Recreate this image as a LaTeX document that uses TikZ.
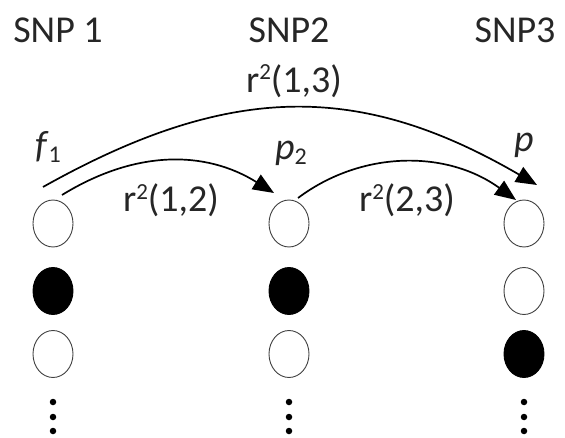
\documentclass[tikz,border=0pt]{standalone}
\usepackage{fontspec}
\setmainfont{Carlito}
\usetikzlibrary{shapes.geometric,arrows.meta}

\newcommand{\supsc}[1]{\raisebox{13pt}{\fontsize{23}{23}\selectfont #1}}
\newcommand{\subsc}[1]{\raisebox{-5pt}{\fontsize{24}{24}\selectfont #1}}

\begin{document}
\begin{tikzpicture}[x=1pt,y=1pt,
  txt/.style={font=\fontsize{38}{44}\selectfont, text=black!85, inner sep=0pt, anchor=base},
  allele/.style={ellipse, draw=black!75, line width=0.9pt, minimum width=40pt, minimum height=47pt, inner sep=0pt},
  open/.style={allele, fill=white},
  filled/.style={allele, fill=black, draw=black},
  dotmark/.style={circle, fill=black, inner sep=0pt, minimum size=6.5pt},
  ld/.style={line width=1.7pt, -{Triangle[length=21pt,width=17pt]}}
]
\useasboundingbox (0,0) rectangle (565,437);

% column headers
\node[txt] (h1) at (58,394) {SNP 1};
\node[txt] (h2) at (289,394) {SNP2};
\node[txt] (h3) at (515,394) {SNP3};

% allele circles, three rows per SNP
\node[open]   (a1) at (53,213.5) {};
\node[filled] (b1) at (53,146) {};
\node[open]   (c1) at (53,83) {};
\node[open]   (a2) at (289,213.5) {};
\node[filled] (b2) at (289,146) {};
\node[open]   (c2) at (289,83) {};
\node[open]   (a3) at (524,213.5) {};
\node[open]   (b3) at (524,146) {};
\node[filled] (c3) at (524,83) {};

% vertical ellipsis under each column
\foreach \c/\x in {1/53, 2/289, 3/524} {
  \node[dotmark] (d\c a) at (\x,35) {};
  \node[dotmark] (d\c b) at (\x,20) {};
  \node[dotmark] (d\c c) at (\x,6) {};
}

% frequency labels above the first row
\node[txt, anchor=base west] (f1) at (35,279) {\textit{f}\subsc{1}};
\node[txt, anchor=base west] (p2) at (275,277) {\textit{p}\subsc{2}};
\node[txt, anchor=base west] (p3) at (514,285) {\textit{p}};

% arrow end points
\coordinate (s13) at (43,250);
\coordinate (t13) at (537,252);
\coordinate (s12) at (62,242);
\coordinate (t12) at (274,244);
\coordinate (s23) at (298,239);
\coordinate (t23) at (516,237);

% LD arrows
\draw[ld] (s13) .. controls (230,355) and (360,355) .. (t13);
\draw[ld] (s12) .. controls (135,287) and (205,287) .. (t12);
\draw[ld] (s23) .. controls (362,287) and (447,287) .. (t23);

% arrow labels
\node[txt] (r13) at (294,344) {r\supsc{2}(1,3)};
\node[txt] (r12) at (171,225) {r\supsc{2}(1,2)};
\node[txt] (r23) at (407,225) {r\supsc{2}(2,3)};
\end{tikzpicture}
\end{document}
